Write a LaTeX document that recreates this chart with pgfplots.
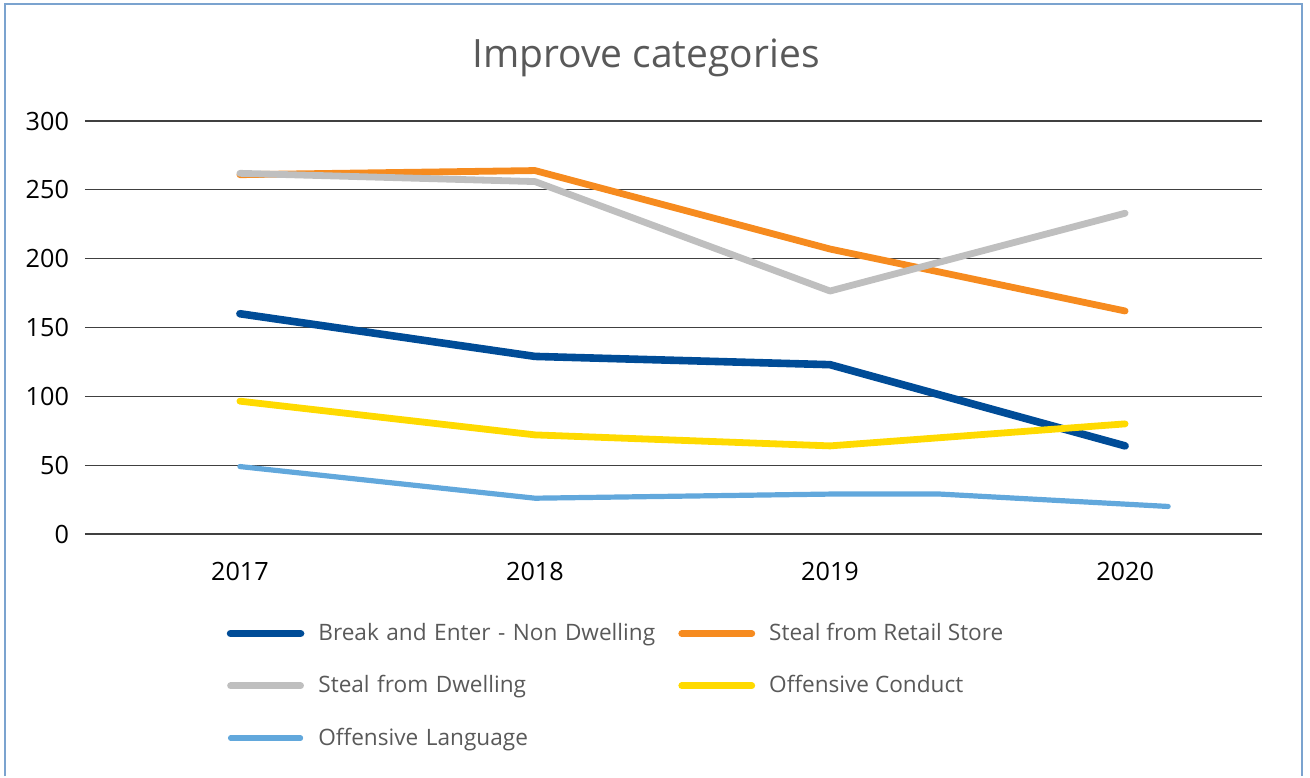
\documentclass[border=0pt]{standalone}
\usepackage{pgfplots}
\pgfplotsset{compat=1.18}
\usepackage{fontspec}
\setmainfont{Open Sans}
\definecolor{cBE}{HTML}{004C97}
\definecolor{cSR}{HTML}{F68B1F}
\definecolor{cSD}{HTML}{BFBFBF}
\definecolor{cOC}{HTML}{FFDA00}
\definecolor{cOL}{HTML}{62A8DC}
\definecolor{cTxt}{HTML}{595959}
\definecolor{cGrid}{HTML}{404040}
\definecolor{cFrame}{HTML}{7BA3CF}
\begin{document}
\begin{tikzpicture}
\path (0,0) rectangle (655pt,388pt);
\begin{axis}[
  at={(42.5pt,121pt)}, anchor=south west,
  scale only axis, width=588.5pt, height=206.5pt,
  xmin=-0.525, xmax=3.464, ymin=0, ymax=300,
  axis line style={draw=none},
  ymajorgrids, grid style={cGrid, line width=0.6pt},
  ytick={0,50,...,300},
  xtick={0,1,2,3}, xticklabels={2017,2018,2019,2020},
  major tick length=0pt, tick style={draw=none},
  tick label style={font=\fontsize{12.6}{14}\selectfont, text=black},
  yticklabel style={anchor=east, xshift=-4.5pt},
  xticklabel style={anchor=north, yshift=-10.5pt},
  /pgf/number format/assume math mode=true,
  clip=false,
  legend columns=2,
  legend cell align=left,
  legend image code/.code={\draw[#1, line cap=round] (0pt,0pt) -- (35pt,0pt);},
  legend style={draw=none, fill=none, at={(0.115,-0.196)}, anchor=north west,
    font=\fontsize{11.3}{13}\selectfont, text=cTxt,
    row sep=12pt,
    /tikz/every odd column/.append style={column sep=5pt},
    /tikz/column 2/.style={text width=178pt}},
  every axis plot/.append style={line cap=round, line join=round},
]
\addplot[cBE, line width=3.8pt] coordinates {(0,160) (1,129) (2,123) (3,64)};
\addlegendentry{Break and Enter - Non Dwelling}
\addplot[cSR, line width=3.4pt] coordinates {(0,261) (1,264) (2,207) (3,162)};
\addlegendentry{Steal from Retail Store}
\addplot[cSD, line width=3.4pt] coordinates {(0,262) (1,256) (2,176.5) (3,233)};
\addlegendentry{Steal from Dwelling}
\addplot[cOC, line width=3.4pt] coordinates {(0,96.5) (1,72) (2,64) (3,80)};
\addlegendentry{Offensive Conduct}
\addplot[cOL, line width=2.6pt] coordinates {(0,49) (1,26) (2,29) (2.373,29) (3.146,20)};
\addlegendentry{Offensive Language}
\end{axis}
\node[font=\fontsize{19.5}{22}\selectfont, text=cTxt] at (323pt,359pt) {Improve categories};
\draw[cFrame, line width=1pt] (2.5pt,0pt) -- (2.5pt,386pt) -- (651pt,386pt) -- (651pt,0pt);
\end{tikzpicture}
\end{document}
